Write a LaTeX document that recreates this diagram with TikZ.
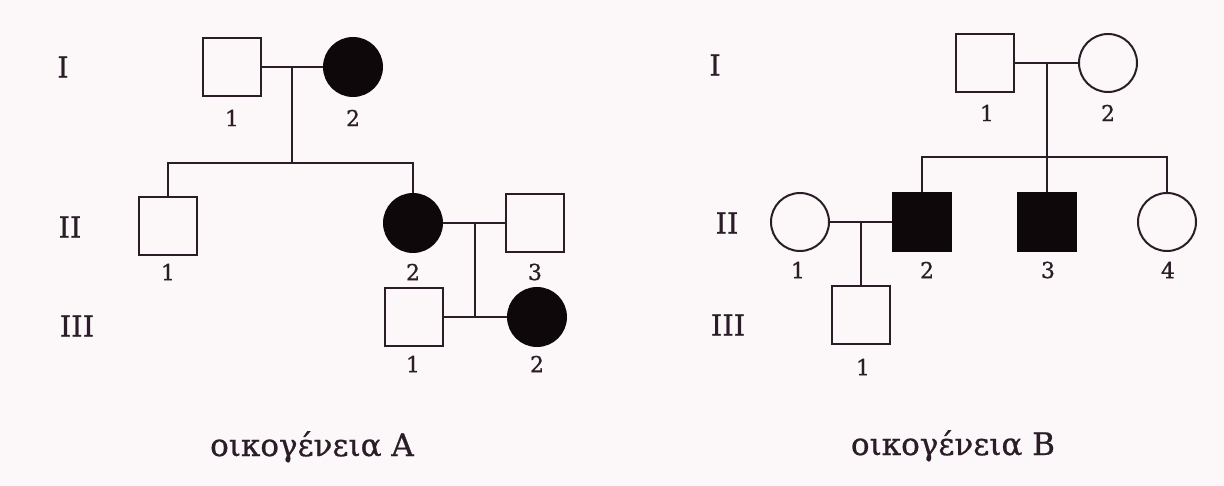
\documentclass[tikz,border=0pt]{standalone}
\usepackage{fontspec}
\setmainfont[FakeBold=0.8]{DejaVu Serif}
\definecolor{bgcol}{HTML}{FCF8FA}
\definecolor{ink}{HTML}{2B1D27}
\definecolor{dark}{HTML}{0E080B}
\tikzset{
  male/.style={rectangle,draw=ink,line width=2pt,minimum size=58pt,inner sep=0pt,fill=bgcol},
  female/.style={circle,draw=ink,line width=2pt,minimum size=58pt,inner sep=0pt,fill=bgcol},
  affected/.style={fill=dark,draw=dark},
  conn/.style={draw=ink,line width=1.9pt},
  num/.style={text=ink,font=\fontsize{22}{22}\selectfont,inner sep=0pt},
  gen/.style={text=ink,font=\fontsize{29}{29}\selectfont,inner sep=0pt},
  caption/.style={text=ink,font=\fontsize{31}{31}\selectfont,inner sep=0pt,anchor=base}
}
\begin{document}
\begin{tikzpicture}[x=1pt,y=-1pt]
\fill[bgcol] (0,0) rectangle (1224,486);
\useasboundingbox (0,0) rectangle (1224,486);

% ---------- Family A ----------
\node[gen] (gAI) at (63,67) {I};
\node[gen] (gAII) at (70,227) {II};
\node[gen] (gAIII) at (77,326) {III};

\node[male] (A11) at (232,67) {};
\node[female,affected] (A12) at (353,67) {};
\node[male] (A21) at (168,226) {};
\node[female,affected] (A22) at (413,223) {};
\node[male] (A23) at (535,223) {};
\node[male] (A31) at (414,317) {};
\node[female,affected] (A32) at (537,317) {};

\node[num] (lA11) at (232,118) {1};
\node[num] (lA12) at (353,118) {2};
\node[num] (lA21) at (168,272) {1};
\node[num] (lA22) at (413,272) {2};
\node[num] (lA23) at (535,272) {3};
\node[num] (lA31) at (413,364) {1};
\node[num] (lA32) at (537,364) {2};

\coordinate (mA1) at (292,67);
\coordinate (sA) at (292,163);
\coordinate (mA2) at (475,223);
\coordinate (cA3) at (475,317);

\draw[conn] (A11.east) -- (A12.west);
\draw[conn] (mA1) -- (sA);
\draw[conn] (A21.north) |- (sA) -| (A22.north);
\draw[conn] (A22.east) -- (A23.west);
\draw[conn] (mA2) -- (cA3);
\draw[conn] (A31.east) -- (A32.west);

\node[caption] (capA) at (312,456) {οικογένεια A};

% ---------- Family B ----------
\node[gen] (gBI) at (715,65) {I};
\node[gen] (gBII) at (727,223) {II};
\node[gen] (gBIII) at (728,325) {III};

\node[male] (B11) at (985,63) {};
\node[female] (B12) at (1108,63) {};
\node[female] (B21) at (800,222) {};
\node[male,affected] (B22) at (922,222) {};
\node[male,affected] (B23) at (1047,222) {};
\node[female] (B24) at (1167,222) {};
\node[male] (B31) at (861,315) {};

\node[num] (lB11) at (987,113) {1};
\node[num] (lB12) at (1108,113) {2};
\node[num] (lB21) at (798,270) {1};
\node[num] (lB22) at (927,270) {2};
\node[num] (lB23) at (1048,270) {3};
\node[num] (lB24) at (1168,270) {4};
\node[num] (lB31) at (863,367) {1};

\coordinate (mB1) at (1047,63);
\coordinate (sB) at (1047,157);
\coordinate (mB2) at (861,222);

\draw[conn] (B11.east) -- (B12.west);
\draw[conn] (mB1) -- (sB);
\draw[conn] (B22.north) |- (sB) -| (B24.north);
\draw[conn] (sB) -- (B23.north);
\draw[conn] (B21.east) -- (B22.west);
\draw[conn] (mB2) -- (B31.north);

\node[caption] (capB) at (953,455) {οικογένεια B};
\end{tikzpicture}
\end{document}
